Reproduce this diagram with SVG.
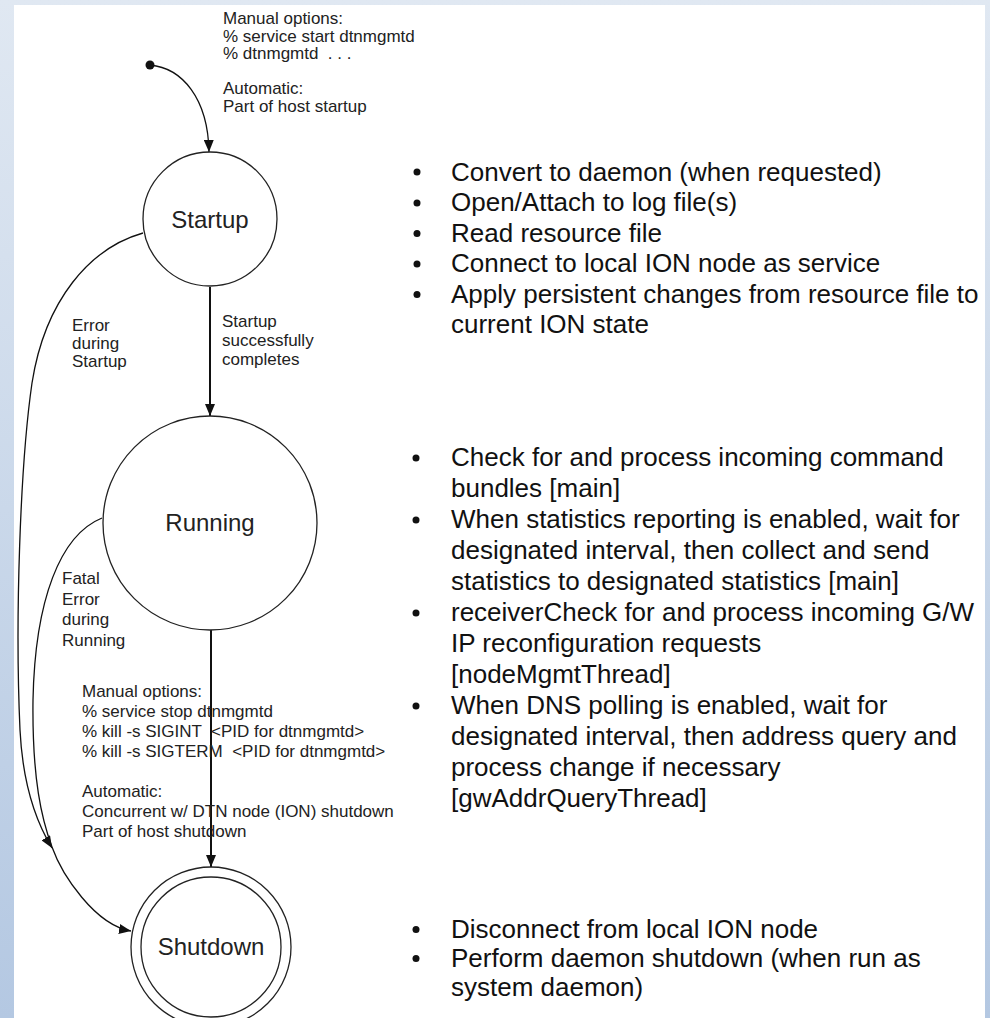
<svg xmlns="http://www.w3.org/2000/svg" width="990" height="1018" viewBox="0 0 990 1018">
<defs>
<linearGradient id="bg" x1="0" y1="0" x2="0" y2="1">
<stop offset="0" stop-color="#e0e8f2"/>
<stop offset="1" stop-color="#b4c8e2"/>
</linearGradient>
<marker id="arr" viewBox="0 0 12 10" refX="12" refY="5" markerWidth="12" markerHeight="10" markerUnits="userSpaceOnUse" orient="auto">
<path d="M0,0 L12,5 L0,10 Z" fill="#111"/>
</marker>
<style>
.lbl{font-family:"Liberation Sans",Arial,sans-serif;font-size:17px;fill:#222}
.node{font-family:"Liberation Sans",Arial,sans-serif;font-size:24px;fill:#222;text-anchor:middle}
.bul{font-family:"Liberation Sans",Arial,sans-serif;font-size:26px;fill:#111}
.st{fill:#fff;stroke:#222;stroke-width:1.3}
.edge{fill:none;stroke:#111;stroke-width:1.3}
.edgeb{fill:none;stroke:#111;stroke-width:2}
.dot{fill:#111}
</style>
</defs>
<rect x="0" y="0" width="990" height="1018" fill="url(#bg)"/>
<rect x="14" y="5" width="971" height="1013" fill="#fff"/>

<g id="connectors">
<circle class="dot" cx="150" cy="65" r="4.5"/>
<path class="edge" d="M150,65 C182,68 208,98 209,152" marker-end="url(#arr)"/>
<path class="edgeb" d="M210,287 L210,416" marker-end="url(#arr)"/>
<path class="edgeb" d="M211,630 L211,867" marker-end="url(#arr)"/>
<path class="edge" d="M143,233 C90,248 45,300 32,383 C20,466 15,620 20,730 C23,790 38,825 52,848" marker-end="url(#arr)"/>
<path class="edge" d="M102,518 C60,535 35,600 33,700 C32,780 42,820 52,847 C62,875 95,925 131,931" marker-end="url(#arr)"/>
</g>

<g id="start-label">
<text class="lbl" x="223" y="24">Manual options:</text>
<text class="lbl" x="223" y="41.5">% service start dtnmgmtd</text>
<text class="lbl" x="223" y="59" xml:space="preserve">% dtnmgmtd  . . .</text>
<text class="lbl" x="223" y="94">Automatic:</text>
<text class="lbl" x="223" y="111.5">Part of host startup</text>
</g>

<g id="startup">
<circle class="st" cx="210" cy="219" r="67"/>
<text class="node" x="210" y="228">Startup</text>
</g>

<g id="running">
<circle class="st" cx="210" cy="523" r="107"/>
<text class="node" x="210" y="531">Running</text>
</g>

<g id="shutdown">
<circle class="st" cx="211" cy="947" r="80"/>
<circle class="st" cx="211" cy="947" r="70"/>
<text class="node" x="211" y="955">Shutdown</text>
</g>

<g id="edge-labels">
<text class="lbl" x="72" y="331">Error</text>
<text class="lbl" x="72" y="349">during</text>
<text class="lbl" x="72" y="367">Startup</text>
<text class="lbl" x="222" y="327">Startup</text>
<text class="lbl" x="222" y="346">successfully</text>
<text class="lbl" x="222" y="365">completes</text>
<text class="lbl" x="62" y="584">Fatal</text>
<text class="lbl" x="62" y="604.5">Error</text>
<text class="lbl" x="62" y="625">during</text>
<text class="lbl" x="62" y="645.5">Running</text>
<text class="lbl" x="82" y="697">Manual options:</text>
<text class="lbl" x="82" y="717">% service stop dtnmgmtd</text>
<text class="lbl" x="82" y="737" xml:space="preserve">% kill -s SIGINT  &lt;PID for dtnmgmtd&gt;</text>
<text class="lbl" x="82" y="757" xml:space="preserve">% kill -s SIGTERM  &lt;PID for dtnmgmtd&gt;</text>
<text class="lbl" x="82" y="797">Automatic:</text>
<text class="lbl" x="82" y="817">Concurrent w/ DTN node (ION) shutdown</text>
<text class="lbl" x="82" y="837">Part of host shutdown</text>
</g>

<g id="startup-notes">
<circle class="dot" cx="417" cy="172" r="3.5"/>
<circle class="dot" cx="417" cy="203" r="3.5"/>
<circle class="dot" cx="417" cy="233.5" r="3.5"/>
<circle class="dot" cx="417" cy="264" r="3.5"/>
<circle class="dot" cx="417" cy="294.5" r="3.5"/>
<text class="bul" x="451" y="180.5">Convert to daemon (when requested)</text>
<text class="bul" x="451" y="211">Open/Attach to log file(s)</text>
<text class="bul" x="451" y="241.5">Read resource file</text>
<text class="bul" x="451" y="272">Connect to local ION node as service</text>
<text class="bul" x="451" y="302.5">Apply persistent changes from resource file to</text>
<text class="bul" x="451" y="333">current ION state</text>
</g>

<g id="running-notes">
<circle class="dot" cx="416" cy="458" r="3.5"/>
<circle class="dot" cx="416" cy="520" r="3.5"/>
<circle class="dot" cx="416" cy="613" r="3.5"/>
<circle class="dot" cx="416" cy="706" r="3.5"/>
<text class="bul" x="451" y="466">Check for and process incoming command</text>
<text class="bul" x="451" y="497">bundles [main]</text>
<text class="bul" x="451" y="528">When statistics reporting is enabled, wait for</text>
<text class="bul" x="451" y="559">designated interval, then collect and send</text>
<text class="bul" x="451" y="590">statistics to designated statistics [main]</text>
<text class="bul" x="451" y="621">receiverCheck for and process incoming G/W</text>
<text class="bul" x="451" y="652">IP reconfiguration requests</text>
<text class="bul" x="451" y="683">[nodeMgmtThread]</text>
<text class="bul" x="451" y="714">When DNS polling is enabled, wait for</text>
<text class="bul" x="451" y="745">designated interval, then address query and</text>
<text class="bul" x="451" y="776">process change if necessary</text>
<text class="bul" x="451" y="807">[gwAddrQueryThread]</text>
</g>

<g id="shutdown-notes">
<circle class="dot" cx="416" cy="929.5" r="3.5"/>
<circle class="dot" cx="416" cy="958.5" r="3.5"/>
<text class="bul" x="451" y="937.5">Disconnect from local ION node</text>
<text class="bul" x="451" y="966.5">Perform daemon shutdown (when run as</text>
<text class="bul" x="451" y="995.5">system daemon)</text>
</g>
</svg>
